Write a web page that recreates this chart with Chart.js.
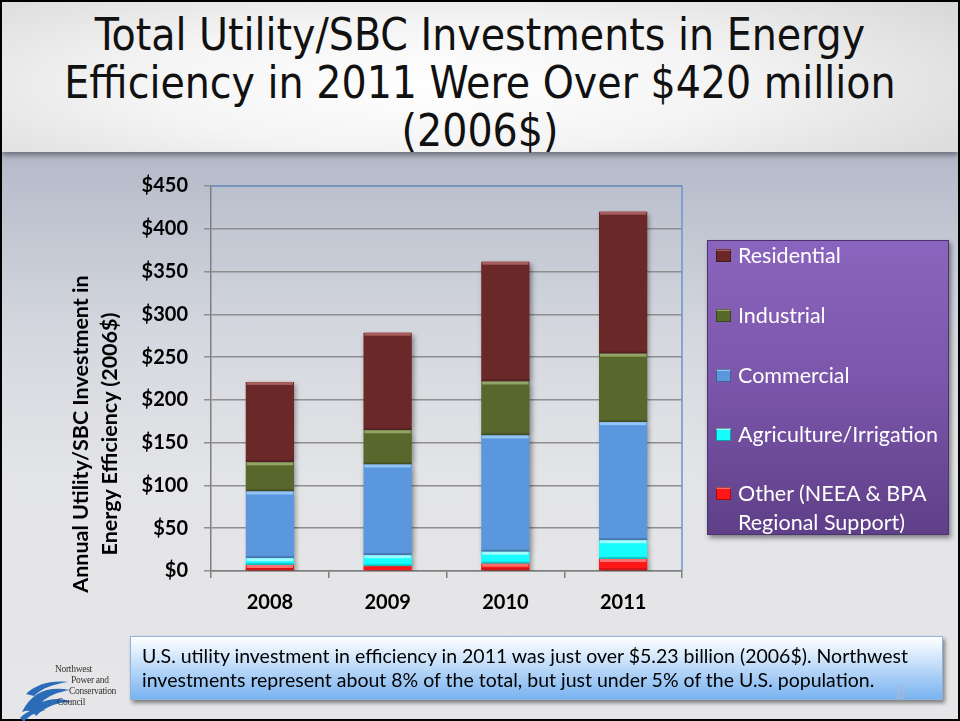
<!DOCTYPE html>
<html>
<head>
<meta charset="utf-8">
<script src="https://cdn.jsdelivr.net/npm/chart.js@4.4.1/dist/chart.umd.min.js"></script>
<style>
  html, body { margin: 0; padding: 0; }
  body { width: 960px; height: 721px; position: relative; overflow: hidden; font-family: Lato, "Open Sans", sans-serif; }
  #slide { position: absolute; left: 0; top: 0; width: 956px; height: 717px; border: 2px solid #000; overflow: hidden;
    background: linear-gradient(to bottom, #97a0b6 0px, #b7bdcb 170px, #d4d7de 330px, #e3e4e7 470px, #e6e6e8 721px); }
  #titleBand { position: absolute; left: 0; top: 0; width: 100%; height: 150px;
    background: radial-gradient(ellipse 70% 95% at 45% 55%, #ffffff 0%, #f4f4f4 45%, #d6d6d6 100%);
    box-shadow: 0 3px 6px rgba(40,40,50,0.55); }
  #title { position: absolute; left: 0; top: 9px; width: 956px; text-align: center; color: #111;
    font-family: "DejaVu Sans Condensed", "DejaVu Sans", sans-serif; font-size: 44px; line-height: 48px; font-weight: 200; }
  #chart { position: absolute; left: 0; top: 0; }
  #ytitle { position: absolute; left: 95px; top: 434px; width: 400px; transform: translate(-50%, -50%) rotate(-90deg);
    text-align: center; font-family: Lato, "Open Sans", sans-serif; font-weight: bold; font-size: 21.5px; line-height: 29px; color: #000; }
  #legend { position: absolute; left: 707px; top: 240px; width: 242px; height: 295px; box-sizing: border-box;
    background: linear-gradient(to bottom, #8b65bd 0%, #7a55a9 50%, #5f3f88 100%);
    border: 1px solid #4b3270; box-shadow: 2px 3px 5px rgba(0,0,0,0.45); color: #fff;
    font-family: Lato, "Open Sans", sans-serif; font-size: 21.5px; }
  .li { position: absolute; left: 8px; width: 236px; line-height: 29px; padding-left: 22px; white-space: nowrap; }
  .sw { position: absolute; left: 0; top: 8px; width: 15px; height: 13px; box-shadow: inset 0 0 0 1px rgba(0,0,0,0.35); }
  #note { position: absolute; left: 130px; top: 636px; width: 813px; height: 64px; box-sizing: border-box;
    background: linear-gradient(to bottom, #ffffff 0%, #d7e9fb 30%, #a7cdf6 65%, #79b3f0 100%);
    border: 1px solid #8db3df; box-shadow: 2px 3px 4px rgba(0,0,0,0.45); white-space: nowrap;
    font-family: Lato, "Open Sans", sans-serif; font-size: 19.5px; line-height: 24px; color: #000; padding: 7px 0 0 11px; }
  #pageNo { position: absolute; left: 896px; top: 682px; font-size: 17px; color: #a9b8d6; font-family: Lato, sans-serif; }
  #logo { position: absolute; left: 18px; top: 660px; width: 115px; height: 58px; }
  #logo .t { position: absolute; font-family: "Liberation Serif", "DejaVu Serif", serif; font-size: 9.5px; color: #333; line-height: 10px; letter-spacing: -0.3px; }
</style>
</head>
<body>
<div id="slide">
  <div id="titleBand"></div>
  <div id="title">Total Utility/SBC Investments in Energy<br>Efficiency in 2011 Were Over $420 million<br>(2006$)</div>
</div>
<canvas id="chart" width="960" height="721"></canvas>
<div id="ytitle">Annual Utility/SBC Investment in<br>Energy Efficiency (2006$)</div>
<div id="legend"></div>
<div id="logo">
  <svg width="60" height="50" style="position:absolute;left:0;top:12px">
    <path d="M4 40 C14 20 30 14 52 18 C40 20 30 24 24 30 C34 26 44 26 54 30 C40 30 28 34 18 44 C14 38 10 38 4 40 Z" fill="#2b6cb8"/>
    <path d="M8 22 C18 12 34 8 50 10 C36 12 24 16 16 24 Z" fill="#2b6cb8"/>
    <path d="M2 46 C10 38 18 36 28 38 C18 40 10 44 6 50 Z" fill="#2b6cb8"/>
  </svg>
  <div class="t" style="left:37px;top:4px">Northwest</div>
  <div class="t" style="left:53px;top:15px">Power and</div>
  <div class="t" style="left:51px;top:26px">Conservation</div>
  <div class="t" style="left:39px;top:37px">Council</div>
</div>
<div id="note">U.S. utility investment in efficiency in 2011 was just over $5.23 billion (2006$). Northwest<br>investments represent about 8% of the total, but just under 5% of the U.S. population.</div>
<div id="pageNo">8</div>

<script>
// categories and series (millions of 2006$)
const years = ["2008", "2009", "2010", "2011"];
const other = [7, 5.5, 8.5, 14];
const agriculture = [8, 13, 14, 22];
const commercial = [78, 106, 136, 138];
const industrial = [34, 40, 63, 80];
const residential = [94, 114, 140, 166];

const yTicks = { min: 0, max: 450, step: 50 };

const seriesStyle = [
  { label: "Other (NEEA & BPA Regional Support)", data: other, color: "#ff1616", light: "#ff7070" },
  { label: "Agriculture/Irrigation", data: agriculture, color: "#17fcfc", light: "#9ffcff" },
  { label: "Commercial", data: commercial, color: "#5b97dd", light: "#93c4f6" },
  { label: "Industrial", data: industrial, color: "#58672c", light: "#93a566" },
  { label: "Residential", data: residential, color: "#6b2828", light: "#a85d5d" }
];

/* Shadow behind the stacked bars, plus a light bevel at the top of each block */
const barLook = {
  id: "barLook",
  beforeDatasetsDraw(chart) {
    const ctx = chart.ctx;
    ctx.save();
    ctx.shadowColor = "rgba(0,0,0,0.4)";
    ctx.shadowBlur = 5;
    ctx.shadowOffsetX = 2;
    ctx.shadowOffsetY = 2;
  },
  afterDatasetsDraw(chart) {
    const ctx = chart.ctx;
    ctx.restore();
    ctx.save();
    chart.data.datasets.forEach((ds, i) => {
      chart.getDatasetMeta(i).data.forEach(bar => {
        const h = bar.base - bar.y;
        if (h < 4) return;
        ctx.fillStyle = ds.lightColor;
        ctx.fillRect(bar.x - bar.width / 2 + 1, bar.y, bar.width - 2, 3);
        ctx.fillStyle = "rgba(0,0,0,0.18)";
        ctx.fillRect(bar.x - bar.width / 2, bar.base - 2, bar.width, 2);
      });
    });
    ctx.restore();
  },
  afterDraw(chart) {
    /* blue plot area frame on the top and right side */
    const a = chart.chartArea;
    const ctx = chart.ctx;
    ctx.save();
    ctx.strokeStyle = "#6d93cc";
    ctx.lineWidth = 1.5;
    ctx.beginPath();
    ctx.moveTo(a.left, a.top);
    ctx.lineTo(a.right, a.top);
    ctx.lineTo(a.right, a.bottom);
    ctx.stroke();
    ctx.restore();
  }
};

const ctx = document.getElementById("chart").getContext("2d");
const chart = new Chart(ctx, {
  type: "bar",
  data: {
    labels: years,
    datasets: seriesStyle.map(s => ({
      label: s.label,
      data: s.data,
      backgroundColor: s.color,
      lightColor: s.light,
      borderWidth: 0,
      barPercentage: 0.41,
      categoryPercentage: 1
    }))
  },
  options: {
    responsive: false,
    animation: false,
    layout: { padding: { left: 0, top: 186, right: 278, bottom: 0 } },
    plugins: { legend: { display: false }, tooltip: { enabled: false } },
    scales: {
      x: {
        stacked: true,
        afterFit: s => { s.height = 150; },
        grid: { offset: true, drawOnChartArea: false, tickLength: 7, color: "#7f7f7f", lineWidth: 1.5 },
        border: { color: "#7f7f7f", width: 1.5 },
        ticks: { color: "#000", padding: 13, font: { family: "Lato", size: 20, weight: "bold" } }
      },
      y: {
        stacked: true,
        min: yTicks.min,
        max: yTicks.max,
        afterFit: s => { s.width = 211; },
        grid: { color: "#8e8e8e", lineWidth: 1.5, tickLength: 7 },
        border: { color: "#7f7f7f", width: 1.5 },
        ticks: {
          stepSize: yTicks.step,
          color: "#000",
          padding: 16,
          font: { family: "Lato", size: 20, weight: "bold" },
          callback: v => "$" + v
        }
      }
    }
  },
  plugins: [barLook]
});

/* HTML legend built from the datasets, top item = top of the stack */
const legendTops = [240, 300, 360, 419, 478];
const legend = document.getElementById("legend");
chart.data.datasets.slice().reverse().forEach((ds, i) => {
  const item = document.createElement("div");
  item.className = "li";
  item.style.top = (legendTops[i] - 240) + "px";
  const sw = document.createElement("span");
  sw.className = "sw";
  sw.style.background = `linear-gradient(to bottom, ${ds.lightColor} 0 2px, ${ds.backgroundColor} 2px)`;
  item.appendChild(sw);
  const txt = ds.label === "Other (NEEA & BPA Regional Support)"
    ? "Other (NEEA &amp; BPA<br>Regional Support)" : ds.label;
  item.insertAdjacentHTML("beforeend", txt);
  legend.appendChild(item);
});
</script>
</body>
</html>
